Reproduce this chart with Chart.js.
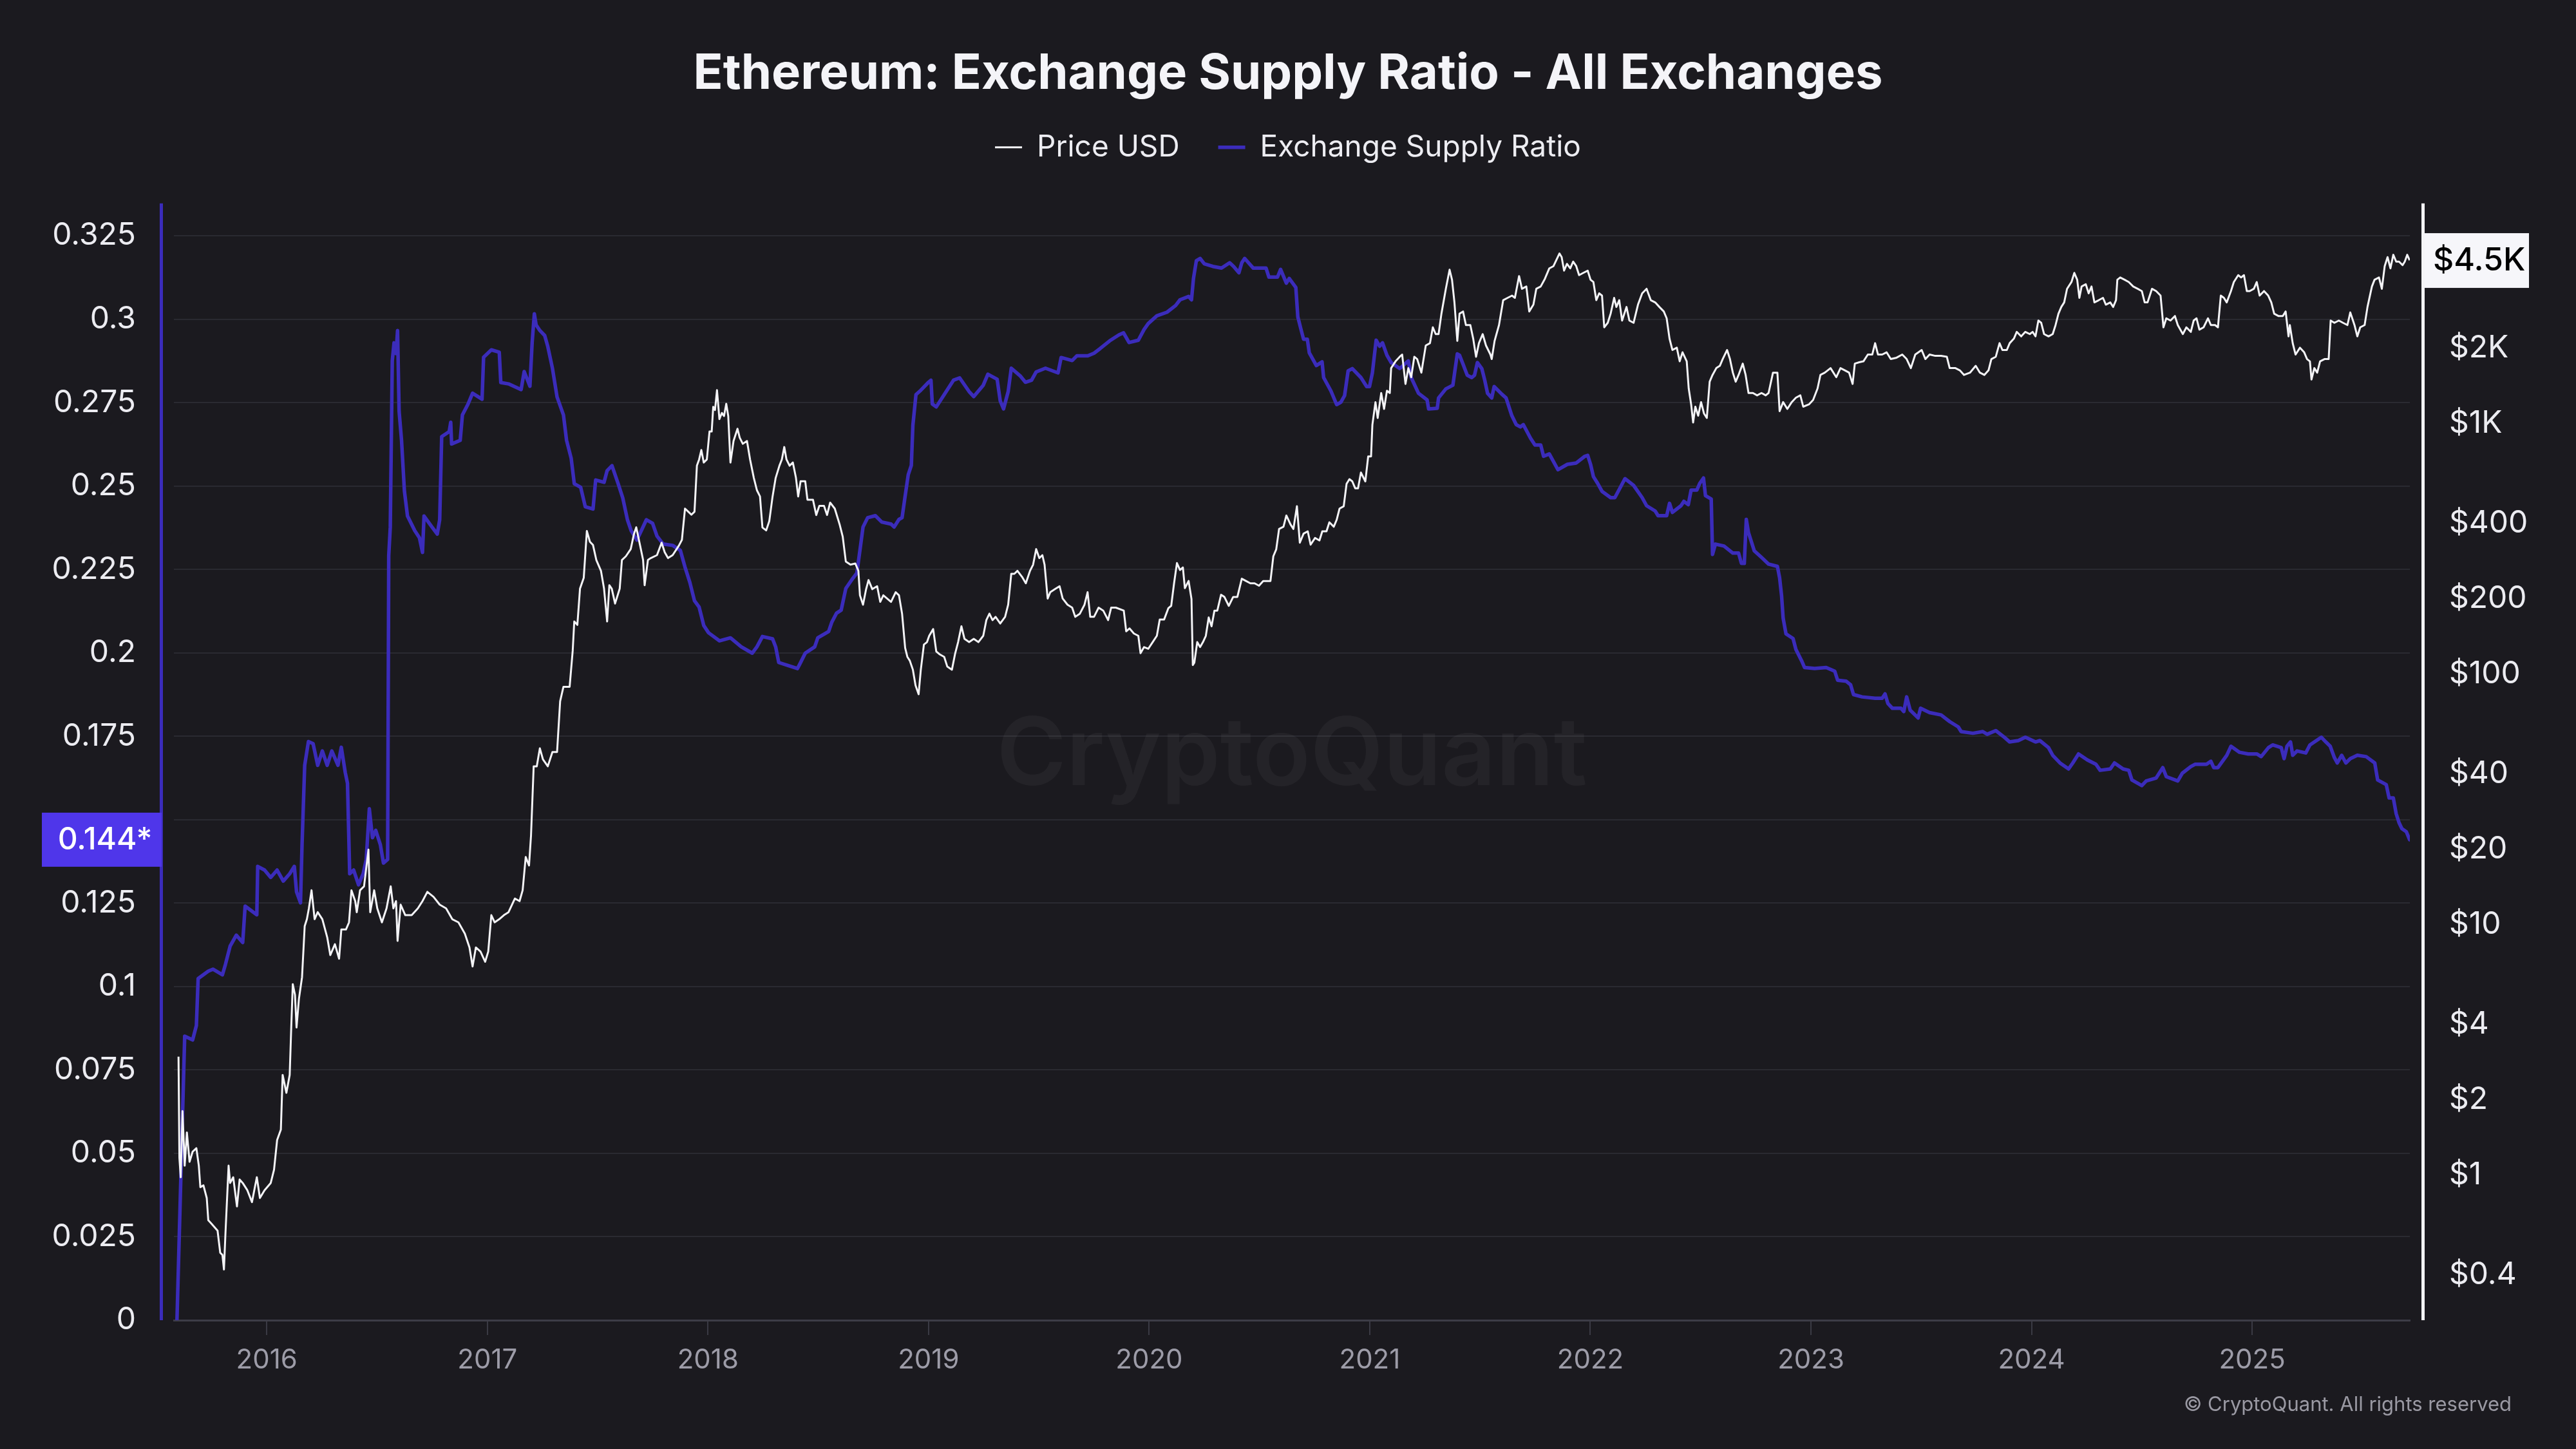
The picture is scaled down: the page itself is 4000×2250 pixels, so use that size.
<!DOCTYPE html>
<html>
<head>
<meta charset="utf-8">
<script src="https://cdn.jsdelivr.net/npm/chart.js@4.4.1/dist/chart.umd.min.js"></script>
<style>
html,body{margin:0;padding:0;background:#1b1a1f;}
#wrap{width:4000px;height:2250px;}
</style>
</head>
<body>
<div id="wrap"><canvas id="c" width="4000" height="2250"></canvas></div>
<script>
const chartTitle = 'Ethereum: Exchange Supply Ratio - All Exchanges';
const seriesNames = ['Price USD', 'Exchange Supply Ratio'];
const copyrightText = '\u00A9 CryptoQuant. All rights reserved';
const watermarkText = 'CryptoQuant';

const yearTicks = [2016, 2017, 2018, 2019, 2020, 2021, 2022, 2023, 2024, 2025];
const ratioTicks = [0, 0.025, 0.05, 0.075, 0.1, 0.125, 0.15, 0.175, 0.2, 0.225, 0.25, 0.275, 0.3, 0.325];
const priceTicks = [0.4, 1, 2, 4, 10, 20, 40, 100, 200, 400, 1000, 2000, 4000];

const ratioDates = [
2015.593,2015.628,2015.664,2015.681,2015.689,2015.735,2015.756,2015.799,2015.813,2015.834,
2015.862,2015.891,2015.902,2015.955,2015.959,2015.990,2016.018,2016.047,2016.075,2016.104,
2016.125,2016.135,2016.153,2016.160,2016.172,2016.189,2016.210,2016.231,2016.252,2016.274,
2016.295,2016.323,2016.338,2016.356,2016.366,2016.376,2016.394,2016.416,2016.437,2016.451,
2016.465,2016.479,2016.494,2016.515,2016.529,2016.548,2016.553,2016.560,2016.569,2016.577,
2016.586,2016.593,2016.600,2016.611,2016.624,2016.638,2016.671,2016.692,2016.706,2016.713,
2016.749,2016.773,2016.784,2016.793,2016.827,2016.834,2016.838,2016.877,2016.887,2016.912,
2016.933,2016.976,2016.983,2017.018,2017.054,2017.061,2017.096,2017.153,2017.167,2017.193,
2017.203,2017.213,2017.221,2017.238,2017.260,2017.274,2017.295,2017.316,2017.345,2017.359,
2017.380,2017.394,2017.423,2017.444,2017.479,2017.491,2017.529,2017.543,2017.565,2017.593,
2017.614,2017.635,2017.652,2017.678,2017.721,2017.749,2017.769,2017.797,2017.840,2017.875,
2017.896,2017.918,2017.939,2017.960,2017.981,2018.003,2018.052,2018.102,2018.151,2018.201,
2018.222,2018.247,2018.293,2018.307,2018.321,2018.363,2018.406,2018.420,2018.441,2018.484,
2018.498,2018.547,2018.561,2018.583,2018.604,2018.625,2018.653,2018.675,2018.692,2018.703,
2018.724,2018.759,2018.788,2018.830,2018.844,2018.866,2018.880,2018.894,2018.908,2018.922,
2018.929,2018.943,2018.965,2019.000,2019.011,2019.017,2019.035,2019.071,2019.113,2019.141,
2019.184,2019.205,2019.248,2019.269,2019.311,2019.325,2019.340,2019.361,2019.375,2019.417,
2019.439,2019.467,2019.488,2019.530,2019.587,2019.601,2019.651,2019.672,2019.722,2019.750,
2019.778,2019.821,2019.863,2019.884,2019.909,2019.951,2019.977,2019.996,2020.035,2020.081,
2020.120,2020.140,2020.179,2020.192,2020.201,2020.214,2020.231,2020.250,2020.289,2020.328,
2020.365,2020.383,2020.407,2020.420,2020.433,2020.472,2020.530,2020.543,2020.582,2020.596,
2020.622,2020.635,2020.665,2020.674,2020.687,2020.700,2020.717,2020.726,2020.758,2020.784,
2020.791,2020.824,2020.850,2020.869,2020.886,2020.902,2020.921,2020.960,2020.986,2020.999,
2021.012,2021.029,2021.045,2021.058,2021.078,2021.097,2021.136,2021.175,2021.188,2021.221,
2021.260,2021.267,2021.306,2021.312,2021.345,2021.377,2021.386,2021.397,2021.407,2021.423,
2021.442,2021.462,2021.475,2021.488,2021.508,2021.521,2021.534,2021.553,2021.564,2021.599,
2021.618,2021.644,2021.664,2021.683,2021.696,2021.729,2021.749,2021.775,2021.788,2021.814,
2021.853,2021.896,2021.936,2021.975,2021.988,2022.001,2022.014,2022.033,2022.053,2022.092,
2022.111,2022.124,2022.157,2022.196,2022.235,2022.255,2022.294,2022.307,2022.346,2022.359,
2022.372,2022.411,2022.424,2022.444,2022.457,2022.483,2022.496,2022.513,2022.522,2022.548,
2022.554,2022.567,2022.606,2022.646,2022.672,2022.685,2022.698,2022.707,2022.717,2022.743,
2022.776,2022.808,2022.848,2022.858,2022.867,2022.874,2022.887,2022.919,2022.932,2022.958,
2022.971,2023.017,2023.069,2023.108,2023.121,2023.160,2023.180,2023.193,2023.232,2023.291,
2023.323,2023.336,2023.349,2023.369,2023.408,2023.421,2023.434,2023.450,2023.486,2023.497,
2023.538,2023.590,2023.629,2023.668,2023.681,2023.734,2023.779,2023.799,2023.838,2023.877,
2023.901,2023.940,2023.972,2024.018,2024.038,2024.077,2024.096,2024.129,2024.168,2024.187,
2024.213,2024.253,2024.292,2024.311,2024.357,2024.376,2024.415,2024.441,2024.455,2024.500,
2024.520,2024.565,2024.595,2024.611,2024.663,2024.683,2024.722,2024.741,2024.793,2024.813,
2024.826,2024.845,2024.885,2024.904,2024.943,2024.982,2025.021,2025.041,2025.074,2025.093,
2025.132,2025.145,2025.158,2025.174,2025.184,2025.204,2025.243,2025.262,2025.314,2025.334,
2025.354,2025.373,2025.386,2025.406,2025.425,2025.445,2025.477,2025.517,2025.556,2025.569,
2025.608,2025.621,2025.640,2025.653,2025.666,2025.679,2025.699,2025.714
];
const ratioValues = [
0,0.0851,0.0840,0.0883,0.1024,0.1046,0.1052,0.1035,0.1067,0.1121,
0.1154,0.1132,0.1241,0.1215,0.1360,0.1349,0.1327,0.1349,0.1316,0.1338,
0.1360,0.1284,0.1251,0.1425,0.1663,0.1734,0.1728,0.1663,0.1706,0.1663,
0.1706,0.1663,0.1717,0.1641,0.1609,0.1338,0.1349,0.1305,0.1338,0.1381,
0.1533,0.1446,0.1468,0.1425,0.1370,0.1381,0.2291,0.2377,0.2875,0.2929,
0.2897,0.2966,0.2724,0.2637,0.2485,0.2410,0.2366,0.2345,0.2301,0.2410,
0.2377,0.2356,0.2399,0.2648,0.2663,0.2691,0.2626,0.2637,0.2713,0.2745,
0.2778,0.2760,0.2886,0.2908,0.2901,0.2810,0.2806,0.2789,0.2843,0.2799,
0.2929,0.3016,0.2983,0.2966,0.2951,0.2918,0.2853,0.2767,0.2713,0.2637,
0.2583,0.2507,0.2496,0.2438,0.2431,0.2518,0.2511,0.2546,0.2561,0.2507,
0.2464,0.2399,0.2366,0.2338,0.2399,0.2388,0.2350,0.2326,0.2322,0.2307,
0.2257,0.2211,0.2156,0.2137,0.2082,0.2060,0.2036,0.2045,0.2018,0.1999,
0.2018,0.2049,0.2042,0.2018,0.1971,0.1962,0.1953,0.1971,0.1999,0.2018,
0.2045,0.2064,0.2091,0.2119,0.2128,0.2193,0.2220,0.2239,0.2322,0.2377,
0.2405,0.2411,0.2392,0.2386,0.2377,0.2400,0.2405,0.2470,0.2534,0.2562,
0.2682,0.2774,0.2787,0.2811,0.2817,0.2746,0.2737,0.2774,0.2817,0.2824,
0.2783,0.2768,0.2802,0.2835,0.2820,0.2755,0.2731,0.2783,0.2853,0.2829,
0.2811,0.2817,0.2842,0.2853,0.2839,0.2885,0.2876,0.2890,0.2890,0.2898,
0.2912,0.2935,0.2953,0.2959,0.2930,0.2937,0.2969,0.2987,0.3010,0.3021,
0.3041,0.3058,0.3068,0.3058,0.3122,0.3175,0.3182,0.3166,0.3158,0.3153,
0.3169,0.3158,0.3139,0.3169,0.3182,0.3153,0.3153,0.3126,0.3126,0.3149,
0.3108,0.3122,0.3095,0.3007,0.2973,0.2940,0.2940,0.2899,0.2861,0.2872,
0.2825,0.2785,0.2744,0.2751,0.2771,0.2845,0.2852,0.2825,0.2798,0.2798,
0.2839,0.2937,0.2919,0.2929,0.2892,0.2870,0.2852,0.2875,0.2825,0.2778,
0.2758,0.2731,0.2733,0.2764,0.2791,0.2802,0.2845,0.2896,0.2892,0.2865,
0.2832,0.2825,0.2832,0.2870,0.2852,0.2818,0.2778,0.2764,0.2798,0.2775,
0.2764,0.2711,0.2684,0.2677,0.2684,0.2643,0.2623,0.2623,0.2589,0.2596,
0.2549,0.2565,0.2569,0.2589,0.2592,0.2565,0.2528,0.2508,0.2484,0.2465,
0.2465,0.2481,0.2522,0.2502,0.2465,0.2441,0.2425,0.2411,0.2411,0.2448,
0.2421,0.2441,0.2454,0.2444,0.2488,0.2488,0.2508,0.2524,0.2471,0.2461,
0.2295,0.2326,0.2320,0.2299,0.2299,0.2268,0.2268,0.2400,0.2360,0.2306,
0.2286,0.2266,0.2259,0.2225,0.2171,0.2104,0.2057,0.2043,0.2010,0.1976,
0.1956,0.1953,0.1956,0.1945,0.1918,0.1915,0.1904,0.1875,0.1868,0.1864,
0.1864,0.1877,0.1848,0.1834,0.1834,0.1824,0.1868,0.1828,0.1805,0.1834,
0.1821,0.1814,0.1794,0.1778,0.1764,0.1759,0.1764,0.1756,0.1767,0.1747,
0.1733,0.1737,0.1747,0.1733,0.1737,0.1716,0.1693,0.1670,0.1652,0.1670,
0.1697,0.1679,0.1666,0.1648,0.1652,0.1670,0.1652,0.1648,0.1619,0.1602,
0.1616,0.1625,0.1656,0.1629,0.1616,0.1639,0.1659,0.1666,0.1666,0.1675,
0.1656,0.1656,0.1693,0.1720,0.1702,0.1697,0.1697,0.1689,0.1716,0.1724,
0.1716,0.1683,0.1720,0.1733,0.1693,0.1706,0.1700,0.1724,0.1747,0.1733,
0.1720,0.1686,0.1670,0.1693,0.1670,0.1683,0.1693,0.1689,0.1670,0.1619,
0.1605,0.1565,0.1565,0.1518,0.1491,0.1473,0.1464,0.1440
];

const priceDates = [
2015.600,2015.604,2015.610,2015.618,2015.628,2015.638,2015.650,2015.664,2015.681,2015.692,
2015.699,2015.713,2015.728,2015.735,2015.749,2015.763,2015.777,2015.789,2015.799,2015.806,
2015.813,2015.827,2015.834,2015.848,2015.865,2015.877,2015.891,2015.912,2015.933,2015.955,
2015.969,2015.990,2016.018,2016.033,2016.047,2016.064,2016.072,2016.089,2016.104,2016.111,
2016.118,2016.128,2016.135,2016.146,2016.160,2016.172,2016.182,2016.191,2016.203,2016.217,
2016.231,2016.252,2016.274,2016.288,2016.309,2016.328,2016.338,2016.359,2016.373,2016.384,
2016.401,2016.408,2016.423,2016.441,2016.461,2016.469,2016.487,2016.501,2016.522,2016.543,
2016.562,2016.574,2016.586,2016.593,2016.607,2016.628,2016.657,2016.685,2016.706,2016.728,
2016.756,2016.784,2016.813,2016.841,2016.869,2016.898,2016.919,2016.933,2016.948,2016.969,
2016.990,2017.004,2017.018,2017.033,2017.054,2017.075,2017.096,2017.125,2017.146,2017.160,
2017.174,2017.189,2017.198,2017.210,2017.224,2017.238,2017.252,2017.274,2017.295,2017.316,
2017.330,2017.345,2017.373,2017.387,2017.394,2017.408,2017.420,2017.437,2017.451,2017.465,
2017.479,2017.494,2017.515,2017.529,2017.543,2017.553,2017.564,2017.579,2017.600,2017.610,
2017.628,2017.650,2017.664,2017.675,2017.692,2017.706,2017.713,2017.728,2017.741,2017.769,
2017.790,2017.804,2017.819,2017.840,2017.868,2017.882,2017.896,2017.911,2017.925,2017.939,
2017.950,2017.960,2017.970,2017.981,2017.995,2018.007,2018.017,2018.024,2018.032,2018.041,
2018.052,2018.063,2018.073,2018.083,2018.092,2018.102,2018.116,2018.134,2018.144,2018.158,
2018.177,2018.191,2018.208,2018.222,2018.236,2018.247,2018.264,2018.278,2018.293,2018.307,
2018.324,2018.335,2018.346,2018.356,2018.370,2018.385,2018.399,2018.409,2018.420,2018.441,
2018.451,2018.476,2018.491,2018.505,2018.526,2018.540,2018.554,2018.575,2018.597,2018.611,
2018.625,2018.646,2018.668,2018.682,2018.689,2018.703,2018.717,2018.728,2018.745,2018.767,
2018.781,2018.795,2018.830,2018.851,2018.866,2018.880,2018.894,2018.904,2018.915,2018.929,
2018.941,2018.955,2018.965,2018.979,2018.993,2019.003,2019.021,2019.035,2019.049,2019.071,
2019.085,2019.106,2019.120,2019.134,2019.149,2019.163,2019.184,2019.205,2019.226,2019.248,
2019.262,2019.276,2019.290,2019.304,2019.325,2019.347,2019.361,2019.375,2019.389,2019.403,
2019.424,2019.441,2019.460,2019.474,2019.488,2019.502,2019.516,2019.526,2019.540,2019.552,
2019.573,2019.594,2019.608,2019.630,2019.651,2019.665,2019.686,2019.707,2019.721,2019.733,
2019.750,2019.771,2019.792,2019.814,2019.828,2019.849,2019.885,2019.896,2019.911,2019.931,
2019.951,2019.961,2019.977,2019.996,2020.016,2020.035,2020.048,2020.068,2020.087,2020.100,
2020.113,2020.126,2020.140,2020.153,2020.162,2020.179,2020.192,2020.198,2020.205,2020.218,
2020.231,2020.244,2020.257,2020.270,2020.283,2020.296,2020.309,2020.326,2020.341,2020.361,
2020.381,2020.400,2020.420,2020.439,2020.459,2020.478,2020.498,2020.517,2020.550,2020.563,
2020.576,2020.589,2020.609,2020.622,2020.641,2020.654,2020.670,2020.683,2020.700,2020.719,
2020.732,2020.752,2020.772,2020.785,2020.804,2020.817,2020.837,2020.850,2020.863,2020.882,
2020.895,2020.908,2020.921,2020.934,2020.947,2020.960,2020.980,2020.993,2021.006,2021.012,
2021.026,2021.036,2021.052,2021.065,2021.078,2021.091,2021.097,2021.117,2021.136,2021.147,
2021.162,2021.175,2021.188,2021.202,2021.215,2021.234,2021.254,2021.273,2021.286,2021.299,
2021.312,2021.325,2021.345,2021.362,2021.373,2021.384,2021.397,2021.407,2021.423,2021.436,
2021.456,2021.469,2021.482,2021.495,2021.512,2021.527,2021.547,2021.553,2021.566,2021.586,
2021.605,2021.625,2021.645,2021.658,2021.677,2021.690,2021.710,2021.723,2021.742,2021.755,
2021.775,2021.794,2021.814,2021.833,2021.860,2021.870,2021.881,2021.894,2021.909,2021.922,
2021.936,2021.949,2021.968,2021.988,2022.001,2022.014,2022.027,2022.040,2022.053,2022.063,
2022.079,2022.092,2022.108,2022.118,2022.131,2022.144,2022.164,2022.177,2022.196,2022.216,
2022.235,2022.255,2022.274,2022.294,2022.313,2022.333,2022.346,2022.359,2022.372,2022.392,
2022.405,2022.418,2022.437,2022.446,2022.457,2022.466,2022.476,2022.489,2022.502,2022.515,
2022.528,2022.541,2022.554,2022.571,2022.587,2022.600,2022.620,2022.633,2022.646,2022.659,
2022.672,2022.691,2022.704,2022.717,2022.737,2022.756,2022.776,2022.795,2022.808,2022.828,
2022.848,2022.858,2022.874,2022.893,2022.913,2022.932,2022.952,2022.965,2022.991,2023.010,
2023.030,2023.043,2023.063,2023.089,2023.115,2023.134,2023.154,2023.173,2023.189,2023.199,
2023.219,2023.238,2023.258,2023.278,2023.291,2023.304,2023.323,2023.343,2023.362,2023.388,
2023.414,2023.434,2023.453,2023.473,2023.502,2023.519,2023.538,2023.564,2023.590,2023.616,
2023.629,2023.655,2023.675,2023.694,2023.721,2023.747,2023.766,2023.786,2023.805,2023.818,
2023.838,2023.855,2023.868,2023.888,2023.901,2023.920,2023.933,2023.953,2023.972,2023.992,
2024.005,2024.018,2024.031,2024.044,2024.057,2024.077,2024.096,2024.109,2024.122,2024.135,
2024.148,2024.161,2024.181,2024.194,2024.207,2024.217,2024.227,2024.246,2024.259,2024.272,
2024.285,2024.305,2024.324,2024.337,2024.357,2024.370,2024.383,2024.389,2024.402,2024.422,
2024.441,2024.461,2024.481,2024.500,2024.513,2024.526,2024.546,2024.565,2024.585,2024.598,
2024.611,2024.630,2024.650,2024.663,2024.686,2024.702,2024.722,2024.735,2024.748,2024.761,
2024.780,2024.800,2024.813,2024.832,2024.845,2024.858,2024.872,2024.885,2024.904,2024.917,
2024.937,2024.950,2024.963,2024.976,2024.989,2025.008,2025.021,2025.034,2025.054,2025.073,
2025.087,2025.100,2025.119,2025.139,2025.152,2025.165,2025.171,2025.184,2025.197,2025.217,
2025.236,2025.249,2025.262,2025.269,2025.282,2025.295,2025.308,2025.328,2025.347,2025.356,
2025.373,2025.393,2025.412,2025.432,2025.445,2025.464,2025.477,2025.490,2025.510,2025.523,
2025.543,2025.555,2025.575,2025.588,2025.601,2025.614,2025.627,2025.640,2025.653,2025.666,
2025.682,2025.692,2025.703,2025.714
];
const priceValues = [
2.97,1.17,0.98,1.80,1.09,1.48,1.13,1.24,1.28,1.09,
0.895,0.91,0.81,0.66,0.64,0.62,0.60,0.49,0.48,0.42,
0.59,1.09,0.93,0.98,0.75,0.96,0.93,0.87,0.78,0.98,
0.81,0.87,0.93,1.05,1.38,1.52,2.51,2.13,2.51,3.88,
5.78,5.24,3.88,5.06,6.17,9.86,10.5,11.6,13.7,10.5,
11.2,10.5,8.90,7.55,8.35,7.30,9.55,9.55,10.2,13.7,
12.4,11.2,13.7,14.2,19.9,11.2,13.7,11.6,10.2,11.6,
14.2,11.6,12.4,8.6,12.0,10.9,10.9,11.6,12.4,13.5,
12.9,12.0,11.6,10.5,10.2,9.2,8.1,6.8,8.1,7.8,
7.1,7.8,10.9,10.2,10.5,10.9,11.2,12.7,12.4,13.7,
18.6,17.2,22.7,42.8,42.8,50.5,45.6,42.8,48.8,48.8,
77.8,88.9,88.9,124,162,157,219,242,372,337,
327,285,258,219,162,226,219,191,219,285,
295,315,360,385,327,285,226,285,290,298,
334,306,290,298,325,343,457,444,432,444,
678,718,783,698,718,928,928,1165,1131,1357,
1040,1101,1070,1197,1070,698,851,952,877,829,
851,718,606,541,511,384,374,407,511,606,
678,718,805,718,678,698,606,511,588,588,
496,496,431,469,469,431,483,457,395,353,
281,273,276,258,206,189,218,237,218,224,
194,206,194,212,206,174,127,117,113,104,
90,83,104,131,134,142,151,123,120,117,
107,104,120,134,155,138,134,138,134,142,
164,174,164,169,159,169,189,251,251,258,
244,230,258,273,315,290,298,273,200,212,
218,224,200,189,184,169,174,189,212,169,
169,184,179,164,184,184,179,148,152,145,
142,121,128,126,134,142,165,165,183,187,
230,277,260,266,220,235,199,108.5,111,134,
128,134,142,168,155,179,179,207,203,187,
203,203,240,235,230,230,225,235,235,295,
314,379,387,429,395,379,467,334,363,371,
328,349,341,371,371,403,387,412,457,467,
574,599,587,551,551,637,587,738,738,987,
1216,1051,1322,1142,1350,1322,1662,1769,1845,1883,
1437,1662,1529,1845,1806,1594,2046,2090,2418,2272,
2272,2740,3445,4105,3745,3040,2134,2740,2797,2469,
2469,2179,1845,2090,2272,2046,1883,1806,2134,2469,
3104,3170,3236,3170,3873,3445,3518,2797,2978,3445,
3518,3776,4157,4244,4768,4611,4071,4333,4157,4423,
4244,3905,3986,4071,3745,3666,3104,3304,3236,2418,
2520,2740,3170,2916,3104,2573,2916,2573,2520,2978,
3304,3445,3104,3040,2916,2797,2627,2179,1963,2005,
1769,1922,1769,1378,1191,1008,1166,1073,1216,1096,
1051,1467,1561,1662,1697,1806,1963,1806,1594,1467,
1561,1732,1561,1322,1322,1294,1322,1294,1322,1594,
1594,1119,1216,1142,1216,1267,1294,1166,1191,1241,
1378,1561,1594,1662,1529,1662,1628,1594,1437,1732,
1754,1769,1883,1883,2090,1883,1883,1922,1806,1829,
1883,1806,1662,1883,1963,1806,1883,1860,1860,1845,
1662,1662,1628,1561,1594,1697,1594,1561,1628,1806,
1845,2090,1963,1963,2090,2179,2319,2225,2319,2272,
2319,2225,2573,2520,2272,2225,2272,2469,2740,2916,
3040,3445,3666,3986,3745,3170,3518,3591,3304,3518,
3040,3104,3170,2978,3040,2916,3104,3745,3824,3745,
3666,3518,3445,3374,3040,3040,3445,3374,3236,2418,
2627,2573,2683,2469,2272,2418,2319,2573,2627,2367,
2418,2627,2469,2469,2418,3236,3170,3040,3374,3666,
3905,3824,3905,3374,3374,3445,3666,3236,3374,3236,
3040,2740,2683,2683,2797,2225,2469,2090,1883,2005,
1922,1806,1769,1497,1662,1594,1769,1806,1806,2573,
2520,2573,2520,2469,2773,2469,2225,2418,2469,2916,
3518,3745,3824,3445,4244,4611,4157,4709,4423,4423,
4280,4423,4709,4480
];

const RATIO_COLOR = '#3b2cbb';
const PRICE_COLOR = '#f4f4f7';
const BG = '#1b1a1f';

function toPoints(xs, ys) { return xs.map((x, i) => ({x: x, y: ys[i]})); }
function priceLabel(v) { return v >= 1000 ? '$' + (v / 1000) + 'K' : '$' + v; }
const lastRatio = ratioValues[ratioValues.length - 1];
const lastPrice = priceValues[priceValues.length - 1];

const decor = {
  id: 'decor',
  beforeDraw(chart) {
    const ctx = chart.ctx;
    ctx.save();
    ctx.fillStyle = BG;
    ctx.fillRect(0, 0, chart.width, chart.height);
    ctx.restore();
  },
  beforeDatasetsDraw(chart) {
    const ctx = chart.ctx, a = chart.chartArea;
    ctx.save();
    ctx.font = '600 147px Inter';
    ctx.fillStyle = 'rgba(255,255,255,0.045)';
    ctx.textAlign = 'center';
    ctx.textBaseline = 'alphabetic';
    ctx.fillText(watermarkText, (a.left + a.right) / 2, a.top + 903);
    ctx.restore();
  },
  afterDraw(chart) {
    const ctx = chart.ctx, a = chart.chartArea, s = chart.scales;
    ctx.save();
    ctx.fillStyle = RATIO_COLOR;
    ctx.fillRect(a.left - 22, a.top, 5, a.bottom - a.top);
    ctx.fillStyle = PRICE_COLOR;
    ctx.fillRect(a.right + 18, a.top, 5, a.bottom - a.top);

    const yR = s.y.getPixelForValue(lastRatio);
    ctx.fillStyle = '#4f36ea';
    ctx.fillRect(65, yR - 42, a.left - 19 - 65, 84);
    ctx.fillStyle = '#ffffff';
    ctx.font = '500 48px Inter';
    ctx.textAlign = 'center';
    ctx.textBaseline = 'middle';
    ctx.fillText(lastRatio.toFixed(3) + '*', 163, yR + 1);

    const yP = s.y1.getPixelForValue(lastPrice);
    ctx.fillStyle = '#f6f6fa';
    ctx.fillRect(a.right + 23, yP - 42, 162, 85);
    ctx.fillStyle = '#000000';
    ctx.font = '500 50px Inter';
    ctx.textAlign = 'left';
    ctx.fillText('$' + (lastPrice / 1000).toFixed(1) + 'K', a.right + 36, yP + 1);

    ctx.fillStyle = '#9a99a3';
    ctx.font = '31px Inter';
    ctx.textAlign = 'right';
    ctx.fillText(copyrightText, 3900, 2182);
    ctx.restore();
  }
};

Chart.defaults.font.family = 'Inter, "Noto Sans", sans-serif';
Chart.defaults.color = '#ececf1';

new Chart(document.getElementById('c'), {
  type: 'line',
  data: {
    datasets: [
      {
        label: seriesNames[0],
        data: toPoints(priceDates, priceValues),
        yAxisID: 'y1',
        borderColor: PRICE_COLOR,
        backgroundColor: PRICE_COLOR,
        borderWidth: 3,
        pointRadius: 0,
        pointStyle: 'line',
        tension: 0,
        borderJoinStyle: 'round'
      },
      {
        label: seriesNames[1],
        data: toPoints(ratioDates, ratioValues),
        yAxisID: 'y',
        borderColor: RATIO_COLOR,
        backgroundColor: RATIO_COLOR,
        borderWidth: 5.5,
        pointRadius: 0,
        pointStyle: 'line',
        tension: 0,
        borderJoinStyle: 'round',
        borderCapStyle: 'round'
      }
    ]
  },
  options: {
    responsive: false,
    animation: false,
    devicePixelRatio: 1,
    layout: { padding: 0 },
    plugins: {
      title: {
        display: true,
        text: chartTitle,
        color: '#f4f4f8',
        font: { size: 76, weight: '700', lineHeight: 0.8 },
        padding: { top: 85, bottom: 0 }
      },
      legend: {
        display: true,
        position: 'top',
        labels: {
          usePointStyle: true,
          pointStyleWidth: 42,
          padding: 60,
          color: '#ededf2',
          font: { size: 46 }
        }
      },
      subtitle: {
        display: true,
        text: ' ',
        weight: 500,
        padding: 0,
        font: { size: 45, lineHeight: 1.2 }
      },
      tooltip: { enabled: false }
    },
    scales: {
      x: {
        type: 'linear',
        min: 2015.579,
        max: 2025.715,
        afterBuildTicks: (sc) => { sc.ticks = yearTicks.map(v => ({value: v})); },
        afterFit: (sc) => { sc.height = 200; },
        grid: { display: true, drawOnChartArea: false, drawTicks: true, tickLength: 23, color: '#3a3a44', lineWidth: 2 },
        border: { display: true, color: '#3d3d47', width: 3 },
        ticks: {
          color: '#9d9ca8',
          font: { size: 42 },
          padding: 14,
          maxRotation: 0,
          autoSkip: false,
          callback: (v) => String(v)
        }
      },
      y: {
        type: 'linear',
        position: 'left',
        min: 0,
        max: 0.3347,
        afterBuildTicks: (sc) => { sc.ticks = ratioTicks.map(v => ({value: v})); },
        afterFit: (sc) => { sc.width = 270; },
        grid: { color: '#2a2a31', lineWidth: 2, drawTicks: false },
        border: { display: false },
        ticks: {
          color: '#ececf1',
          font: { size: 48 },
          padding: 59,
          callback: (v) => Math.abs(v - lastRatio) < 0.012 ? '' : String(Math.round(v * 1000) / 1000)
        }
      },
      y1: {
        type: 'logarithmic',
        position: 'right',
        min: 0.2635,
        max: 7553,
        afterBuildTicks: (sc) => { sc.ticks = priceTicks.map(v => ({value: v})); },
        afterFit: (sc) => { sc.width = 258; },
        grid: { display: false, drawOnChartArea: false },
        border: { display: false },
        ticks: {
          color: '#ececf1',
          font: { size: 48 },
          padding: 53,
          callback: (v) => priceLabel(v)
        }
      }
    }
  },
  plugins: [decor]
});
</script>
</body>
</html>
